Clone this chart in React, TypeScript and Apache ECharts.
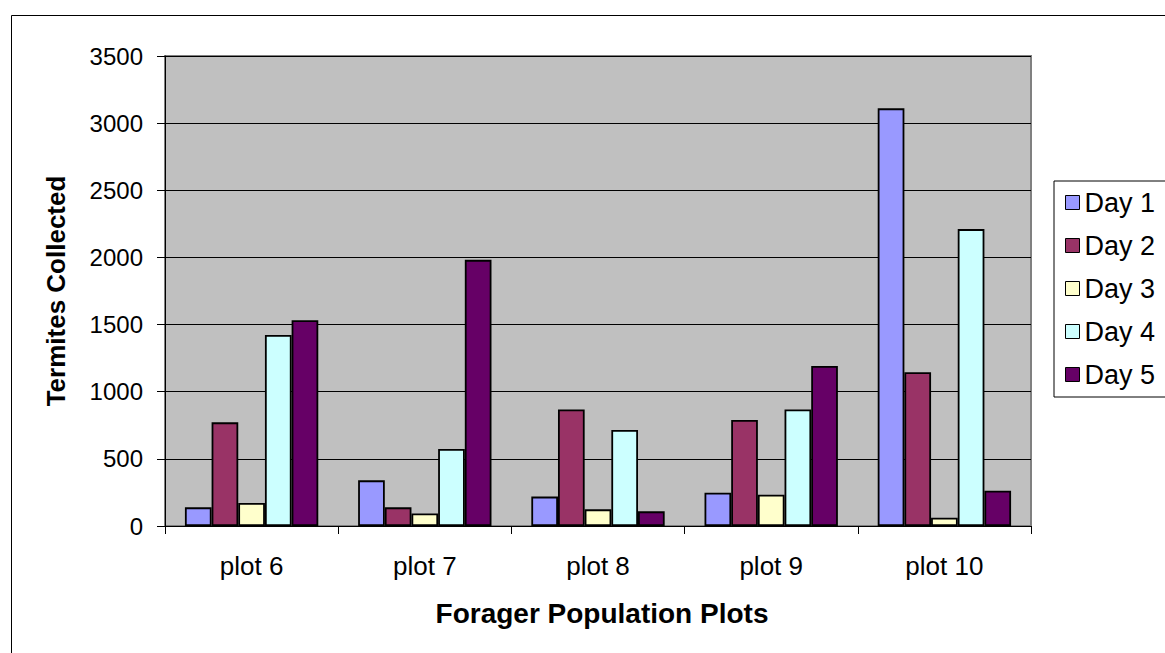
import React, { useEffect, useRef } from "react";
import * as echarts from "echarts";

const categories = ["plot 6", "plot 7", "plot 8", "plot 9", "plot 10"];
const seriesNames = ["Day 1", "Day 2", "Day 3", "Day 4", "Day 5"];
const day1 = [139, 340, 219, 248, 3110];
const day2 = [772, 139, 867, 790, 1145];
const day3 = [171, 94, 124, 233, 62];
const day4 = [1423, 574, 715, 867, 2211];
const day5 = [1532, 1982, 109, 1192, 263];
const colors = ["#9999FF", "#993366", "#FFFFCC", "#CCFFFF", "#660066"];
const yTicks = { min: 0, max: 3500, interval: 500 };
const xTitle = "Forager Population Plots";
const yTitle = "Termites Collected";

const FONT = "Liberation Sans, Arial, sans-serif";

export default function App() {
  const ref = useRef<HTMLDivElement>(null);
  useEffect(() => {
    if (!ref.current) return;
    const chart = echarts.init(ref.current, null, { renderer: "svg" });
    const values = [day1, day2, day3, day4, day5];
    chart.setOption({
      animation: false,
      backgroundColor: "#ffffff",
      textStyle: { fontFamily: FONT },
      grid: {
        left: 165,
        right: 134,
        top: 56,
        bottom: 127,
        show: true,
        backgroundColor: "#C0C0C0",
        borderColor: "#808080",
        borderWidth: 2,
      },
      legend: {
        orient: "vertical",
        left: 1054,
        top: 181,
        padding: [8, 12, 9, 11],
        itemGap: 16,
        itemWidth: 14,
        itemHeight: 14,
        borderColor: "#000",
        borderWidth: 1,
        backgroundColor: "#fff",
        icon: "rect",
        itemStyle: { borderColor: "#000", borderWidth: 1 },
        textStyle: { fontSize: 27, lineHeight: 27, color: "#000", fontFamily: FONT },
        data: seriesNames,
      },
      xAxis: {
        type: "category",
        data: categories,
        axisLine: { show: true, lineStyle: { color: "#000", width: 1 } },
        axisTick: { show: true, length: 8, lineStyle: { color: "#000" } },
        axisLabel: { fontSize: 26, color: "#000", margin: 27, fontFamily: FONT },
      },
      yAxis: {
        type: "value",
        min: yTicks.min,
        max: yTicks.max,
        interval: yTicks.interval,
        axisLine: { show: true, lineStyle: { color: "#000", width: 1 } },
        axisTick: { show: true, length: 8, lineStyle: { color: "#000" } },
        axisLabel: {
          fontSize: 24,
          color: "#000",
          margin: 22,
          fontFamily: FONT,
          formatter: (v: number) => String(v),
        },
        splitLine: { show: true, lineStyle: { color: "#000", width: 1 } },
      },
      series: seriesNames.map((name, i) => ({
        name,
        type: "bar",
        data: values[i],
        barGap: "0%",
        barCategoryGap: "23%",
        itemStyle: { color: colors[i], borderColor: "#000", borderWidth: 1.8 },
      })),
      graphic: [
        {
          type: "rect",
          left: 9,
          top: 13,
          shape: { x: 0, y: 0, width: 1200, height: 700 },
          style: { fill: "none", stroke: "#000", lineWidth: 1 },
          silent: true,
          z: 100,
        },
        {
          type: "text",
          x: 602,
          y: 613,
          style: {
            text: xTitle,
            fontSize: 28,
            fontWeight: "bold",
            fontFamily: FONT,
            fill: "#000",
            align: "center",
            verticalAlign: "middle",
          },
        },
        {
          type: "text",
          x: 56,
          y: 291,
          rotation: Math.PI / 2,
          style: {
            text: yTitle,
            fontSize: 26,
            fontWeight: "bold",
            fontFamily: FONT,
            fill: "#000",
            align: "center",
            verticalAlign: "middle",
          },
        },
      ],
    });
    return () => chart.dispose();
  }, []);
  return (
    <div
      ref={ref}
      style={{ position: "fixed", left: 0, top: 0, width: 1165, height: 653 }}
    />
  );
}
